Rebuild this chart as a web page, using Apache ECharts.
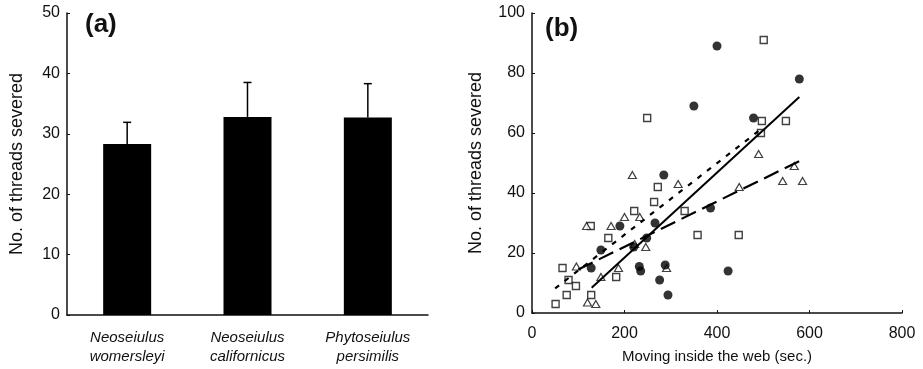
<!DOCTYPE html>
<html>
<head>
<meta charset="utf-8">
<script src="https://cdn.jsdelivr.net/npm/echarts@6/dist/echarts.min.js"></script>
<style>
html,body{margin:0;padding:0;background:#fff;}
#c{width:923px;height:369px;}
</style>
</head>
<body>
<div id="c"></div>
<script>
// ---- Panel (a) data ----
const categories = ['Neoseiulus\nwomersleyi', 'Neoseiulus\ncalifornicus', 'Phytoseiulus\npersimilis'];
const means = [28.3, 32.8, 32.7];
const errors = [3.6, 5.7, 5.6];
const yTicksA = [0, 10, 20, 30, 40, 50];

// ---- Panel (b) data: [time (sec.), threads severed] ----
const circles = [[128,15],[149,21],[190,29],[220,22],[232,15.5],[235,14],[248,25],[266,30],[276,11],[285,46],[288,16],[294,6],[350,69],[386,35],[400,89],[424,14],[479,65],[578,78]];
const squares = [[51,3],[66,15],[75,6],[79,11],[95,9],[127,29],[128,6],[165,25],[182,12],[221,34],[249,65],[264,37],[272,42],[330,34],[358,26],[447,26],[495,60],[497,64],[501,91],[549,64]];
const triangles = [[96,15.5],[118,29],[120,3.5],[138,3],[149,12],[171,29],[187,15],[200,32],[217,46],[222,23],[233,32],[246,22],[291,15],[316,43],[448,42],[490,53],[542,44],[567,49],[585,44]];
const fitCircles = [[129,8.4],[578,72]];
const fitSquares = [[50,8.2],[497,61.5]];
const fitTriangles = [[100,14.5],[583,51]];
const xTicksB = [0, 200, 400, 600, 800];
const yTicksB = [0, 20, 40, 60, 80, 100];

const FONT = "'Liberation Sans', Arial, Helvetica, sans-serif";
const AX = {lineStyle: {color: '#111', width: 1.5}};
const chart = echarts.init(document.getElementById('c'));

const errData = means.map((m, i) => [i, m, m + errors[i]]);

chart.setOption({
  animation: false,
  backgroundColor: '#fff',
  textStyle: {fontFamily: FONT, color: '#111'},
  grid: [
    {left: 67, top: 13, width: 361, height: 302},
    {left: 532, top: 13, width: 370, height: 302}
  ],
  xAxis: [
    {
      type: 'category', gridIndex: 0, data: categories,
      axisLine: AX, axisTick: {show: false},
      axisLabel: {fontFamily: FONT, fontStyle: 'italic', fontSize: 15, lineHeight: 19, color: '#111', margin: 13}
    },
    {
      type: 'value', gridIndex: 1, min: xTicksB[0], max: xTicksB[xTicksB.length - 1], interval: 200,
      axisLine: AX, axisTick: {show: true, inside: true, length: 3, lineStyle: {color: '#111'}},
      splitLine: {show: false},
      axisLabel: {fontFamily: FONT, fontSize: 16, color: '#111', margin: 13},
      name: 'Moving inside the web (sec.)', nameLocation: 'middle', nameGap: 36,
      nameTextStyle: {fontFamily: FONT, fontSize: 15, color: '#111'}
    }
  ],
  yAxis: [
    {
      type: 'value', gridIndex: 0, min: yTicksA[0], max: yTicksA[yTicksA.length - 1], interval: 10,
      axisLine: {show: true, lineStyle: {color: '#111', width: 1.5}},
      axisTick: {show: true, inside: true, length: 3, lineStyle: {color: '#111'}},
      splitLine: {show: false},
      axisLabel: {fontFamily: FONT, fontSize: 16, color: '#111', margin: 7},
      name: 'No. of threads severed', nameLocation: 'middle', nameGap: 41,
      nameTextStyle: {fontFamily: FONT, fontSize: 18, color: '#111'}
    },
    {
      type: 'value', gridIndex: 1, min: yTicksB[0], max: yTicksB[yTicksB.length - 1], interval: 20,
      axisLine: {show: true, lineStyle: {color: '#111', width: 1.5}},
      axisTick: {show: true, inside: true, length: 3, lineStyle: {color: '#111'}},
      splitLine: {show: false},
      axisLabel: {fontFamily: FONT, fontSize: 16, color: '#111', margin: 7},
      name: 'No. of threads severed', nameLocation: 'middle', nameGap: 47,
      nameTextStyle: {fontFamily: FONT, fontSize: 18, color: '#111'}
    }
  ],
  graphic: [
    {type: 'text', left: 85, top: 12, style: {text: '(a)', font: "bold 26px 'Liberation Sans', Arial, sans-serif", fill: '#111'}},
    {type: 'text', left: 545, top: 16, style: {text: '(b)', font: "bold 26px 'Liberation Sans', Arial, sans-serif", fill: '#111'}}
  ],
  series: [
    {
      type: 'bar', xAxisIndex: 0, yAxisIndex: 0, data: means, barWidth: 48,
      itemStyle: {color: '#000'}
    },
    {
      type: 'custom', xAxisIndex: 0, yAxisIndex: 0, data: errData,
      renderItem: function (params, api) {
        const base = api.coord([api.value(0), api.value(1)]);
        const top = api.coord([api.value(0), api.value(2)]);
        return {
          type: 'group',
          children: [
            {type: 'line', shape: {x1: base[0], y1: base[1], x2: top[0], y2: top[1]}, style: {stroke: '#000', lineWidth: 1.5}},
            {type: 'line', shape: {x1: top[0] - 4, y1: top[1], x2: top[0] + 4, y2: top[1]}, style: {stroke: '#000', lineWidth: 1.5}}
          ]
        };
      },
      z: 3
    },
    {
      type: 'scatter', xAxisIndex: 1, yAxisIndex: 1, data: squares, symbol: 'rect', symbolSize: 7,
      itemStyle: {color: '#fff', borderColor: '#111', borderWidth: 1.4}
    },
    {
      type: 'scatter', xAxisIndex: 1, yAxisIndex: 1, data: triangles, symbol: 'triangle', symbolSize: [8, 7],
      itemStyle: {color: '#fff', borderColor: '#111', borderWidth: 1.2}
    },
    {
      type: 'scatter', xAxisIndex: 1, yAxisIndex: 1, data: circles, symbol: 'circle', symbolSize: 9,
      itemStyle: {color: '#000'}
    },
    {
      type: 'line', xAxisIndex: 1, yAxisIndex: 1, data: fitCircles, showSymbol: false, symbol: 'none',
      lineStyle: {color: '#000', width: 2, type: 'solid'}, z: 4
    },
    {
      type: 'line', xAxisIndex: 1, yAxisIndex: 1, data: fitSquares, showSymbol: false, symbol: 'none',
      lineStyle: {color: '#000', width: 2.2, type: [5, 7]}, z: 4
    },
    {
      type: 'line', xAxisIndex: 1, yAxisIndex: 1, data: fitTriangles, showSymbol: false, symbol: 'none',
      lineStyle: {color: '#000', width: 2.2, type: [16, 7]}, z: 4
    }
  ]
});
</script>
</body>
</html>
